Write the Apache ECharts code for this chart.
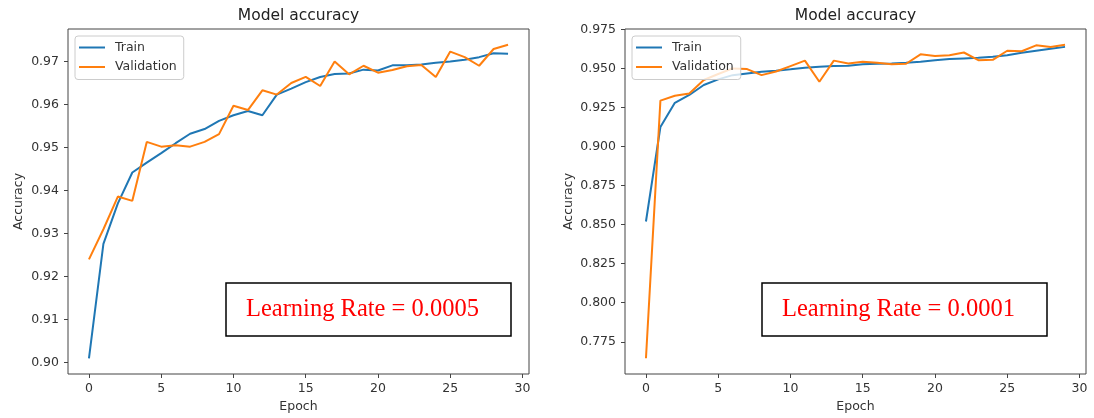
<!DOCTYPE html>
<html>
<head>
<meta charset="utf-8">
<script src="https://cdn.jsdelivr.net/npm/echarts@6/dist/echarts.min.js"></script>
<style>html,body{margin:0;padding:0;background:#fff;}#c{width:1094px;height:418px;}</style>
</head>
<body>
<div id="c"></div>
<script>
// ---- data ----
const epochs = [0,1,2,3,4,5,6,7,8,9,10,11,12,13,14,15,16,17,18,19,20,21,22,23,24,25,26,27,28,29];
const leftTrain = [0.901,0.9276,0.937,0.9442,0.9465,0.9487,0.951,0.9532,0.9543,0.9562,0.9575,0.9585,0.9575,0.9623,0.9637,0.9652,0.9664,0.9671,0.9672,0.9681,0.9679,0.9691,0.9691,0.9693,0.9697,0.9700,0.9704,0.9710,0.9719,0.9718];
const leftVal = [0.924,0.931,0.9386,0.9376,0.9513,0.9502,0.9505,0.9502,0.9513,0.9531,0.9597,0.9587,0.9633,0.9623,0.965,0.9664,0.9643,0.970,0.967,0.969,0.9674,0.968,0.9689,0.9692,0.9664,0.9723,0.971,0.969,0.9729,0.9739];
const rightTrain = [0.852,0.9125,0.928,0.933,0.9394,0.943,0.9457,0.9468,0.9479,0.9485,0.9494,0.9504,0.951,0.9515,0.9517,0.9526,0.953,0.9532,0.9536,0.9543,0.9553,0.956,0.9564,0.9568,0.9574,0.9585,0.960,0.9613,0.9626,0.9638];
const rightVal = [0.7644,0.9294,0.9325,0.934,0.9426,0.9464,0.950,0.9496,0.9457,0.948,0.9515,0.955,0.9415,0.955,0.9532,0.9542,0.9537,0.9526,0.953,0.959,0.9579,0.9585,0.9602,0.9553,0.9555,0.9613,0.961,0.9648,0.9637,0.9652];
const xTicks = [0,5,10,15,20,25,30];
const leftYTicks = [0.90,0.91,0.92,0.93,0.94,0.95,0.96,0.97];
const rightYTicks = [0.775,0.800,0.825,0.850,0.875,0.900,0.925,0.950,0.975];
const seriesNames = ['Train','Validation'];
const titles = ['Model accuracy','Model accuracy'];
const notes = ['Learning Rate = 0.0005','Learning Rate = 0.0001'];

// ---- helpers ----
const FONT = '"DejaVu Sans", sans-serif';
const BLUE = '#1f77b4', ORANGE = '#ff7f0e';
function pairs(ys){ return ys.map((v,i)=>[epochs[i], v]); }
function autoRange(arrs){ // matplotlib-like 5% margin
  const all = [].concat(...arrs);
  const lo = Math.min(...all), hi = Math.max(...all), m = (hi-lo)*0.05;
  return [lo-m, hi+m];
}
const xr = autoRange([epochs]);
const lr = autoRange([leftTrain,leftVal]);
const rr = autoRange([rightTrain,rightVal]);

const gridBase = {top:29, width:461, height:346, show:true, borderColor:'#444', borderWidth:1, backgroundColor:'transparent', containLabel:false};
const lab = {fontFamily:FONT, fontSize:12.5, color:'#333'};

function xAxis(i){
  return {type:'value', gridIndex:i, min:xr[0], max:xr[1],
    axisLine:{show:false, onZero:false}, splitLine:{show:false},
    axisTick:{show:true, length:4, customValues:xTicks, lineStyle:{color:'#444', width:1}},
    axisLabel:Object.assign({customValues:xTicks, margin:8, formatter:v=>String(Math.round(v))}, lab),
    name:'Epoch', nameLocation:'middle', nameGap:26, nameTextStyle:lab};
}
function yAxis(i, r, ticks, dec, gap){
  return {type:'value', gridIndex:i, min:r[0], max:r[1], scale:true,
    axisLine:{show:false, onZero:false}, splitLine:{show:false},
    axisTick:{show:true, length:4, customValues:ticks, lineStyle:{color:'#444', width:1}},
    axisLabel:Object.assign({customValues:ticks, margin:9, formatter:v=>v.toFixed(dec)}, lab),
    name:'Accuracy', nameLocation:'middle', nameGap:gap, nameRotate:90, nameTextStyle:lab};
}
function line(name, data, color, i, z){
  return {type:'line', name, xAxisIndex:i, yAxisIndex:i, data:pairs(data), showSymbol:false, symbol:'none',
    color, lineStyle:{color, width:2}, itemStyle:{color}, z, silent:true};
}
function legend(left){
  return {data:seriesNames, orient:'vertical', left, top:36, icon:'rect', itemWidth:26, itemHeight:2, itemGap:6.5,
    textStyle:Object.assign({padding:[0,0,0,5]}, lab), backgroundColor:'rgba(255,255,255,0.8)',
    borderColor:'#cccccc', borderWidth:1, borderRadius:3, padding:[5,7,6,4], selectedMode:false};
}
function note(rx, ry, tx, text){
  return {type:'group', children:[
    {type:'rect', shape:{x:rx, y:ry, width:285, height:53}, style:{fill:'#fff', stroke:'#000', lineWidth:1.5}, z:10},
    {type:'text', x:tx, y:ry+27, style:{text, fill:'#ff0000', font:'24.5px "Liberation Serif", "Times New Roman", serif', verticalAlign:'middle', align:'left'}, z:11}
  ]};
}

const chart = echarts.init(document.getElementById('c'), null, {renderer:'canvas'});
chart.setOption({
  animation:false,
  backgroundColor:'#fff',
  grid:[Object.assign({left:68}, gridBase), Object.assign({left:625}, gridBase)],
  xAxis:[xAxis(0), xAxis(1)],
  yAxis:[yAxis(0, lr, leftYTicks, 2, 43), yAxis(1, rr, rightYTicks, 3, 50)],
  legend:[legend(75), legend(632)],
  series:[
    line(seriesNames[0], leftTrain, BLUE, 0, 2),
    line(seriesNames[1], leftVal, ORANGE, 0, 3),
    line(seriesNames[0], rightTrain, BLUE, 1, 2),
    line(seriesNames[1], rightVal, ORANGE, 1, 3)
  ],
  graphic:[
    {type:'text', x:298.5, y:16, style:{text:titles[0], fill:'#222', font:'15.5px "DejaVu Sans"', align:'center', verticalAlign:'middle'}},
    {type:'text', x:855.5, y:16, style:{text:titles[1], fill:'#222', font:'15.5px "DejaVu Sans"', align:'center', verticalAlign:'middle'}},
    note(226, 283, 246, notes[0]),
    note(762, 283, 782, notes[1])
  ]
});
</script>
</body>
</html>
